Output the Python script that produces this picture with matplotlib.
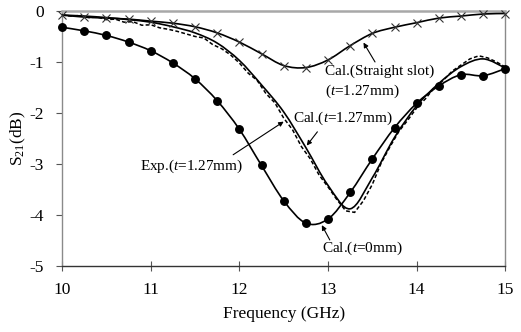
import numpy as np
import matplotlib
matplotlib.use("Agg")
import matplotlib.pyplot as plt
from matplotlib.path import Path
from matplotlib.patches import PathPatch

plt.rcParams['font.family'] = ['Liberation Serif', 'DejaVu Serif']
plt.rcParams['mathtext.fontset'] = 'custom'
plt.rcParams['mathtext.rm'] = 'Liberation Serif'
plt.rcParams['mathtext.it'] = 'Liberation Serif:italic'

# Frequency grid of the simulated curves (GHz)
freq = [10.0, 10.25, 10.5, 10.75, 11.0, 11.25, 11.5, 11.75, 12.0, 12.25, 12.5,
        12.75, 13.0, 13.25, 13.5, 13.75, 14.0, 14.25, 14.5, 14.75, 15.0]

# S21 (dB), calculated, t = 0 mm
s21_cal_t0 = [-0.32, -0.39, -0.48, -0.61, -0.78, -1.02, -1.33, -1.76, -2.32, -3.03, -3.72,
              -4.16, -4.08, -3.56, -2.90, -2.29, -1.81, -1.47, -1.25, -1.27, -1.13]

# S21 (dB), calculated, straight slot, t = 1.27 mm
s21_cal_straight = [-0.08, -0.12, -0.14, -0.16, -0.20, -0.24, -0.31, -0.43, -0.61, -0.84, -1.07,
                    -1.11, -0.96, -0.68, -0.44, -0.32, -0.23, -0.14, -0.10, -0.06, -0.05]

# S21 (dB), calculated, t = 1.27 mm
s21_cal_t127 = [-0.08, -0.10, -0.13, -0.17, -0.22, -0.31, -0.43, -0.63, -0.97, -1.45, -1.98,
                -2.68, -3.42, -3.88, -3.27, -2.48, -1.86, -1.42, -1.09, -0.94, -1.12]

# Measured S21 (dB), t = 1.27 mm
freq_exp = [10.0, 10.1, 10.2, 10.3, 10.4, 10.5, 10.6, 10.7, 10.8, 10.9, 11.0,
            11.1, 11.2, 11.3, 11.4, 11.5, 11.6, 11.7, 11.8, 11.9, 12.0,
            12.1, 12.2, 12.3, 12.4, 12.5, 12.6, 12.7, 12.8, 12.9, 13.0,
            13.1, 13.2, 13.3, 13.4, 13.5, 13.6, 13.7, 13.8, 13.9, 14.0,
            14.1, 14.2, 14.3, 14.4, 14.5, 14.6, 14.7, 14.8, 14.9, 15.0]
s21_exp = [-0.08, -0.10, -0.09, -0.13, -0.12, -0.17, -0.16, -0.22, -0.21, -0.28, -0.27,
           -0.33, -0.36, -0.40, -0.45, -0.50, -0.53, -0.66, -0.74, -0.86, -1.02,
           -1.22, -1.36, -1.62, -1.80, -2.10, -2.33, -2.66, -2.90, -3.22, -3.45,
           -3.70, -3.92, -3.95, -3.72, -3.40, -2.98, -2.66, -2.36, -2.14, -1.90,
           -1.72, -1.50, -1.36, -1.18, -1.06, -0.94, -0.88, -0.92, -1.00, -1.10]

x_ticks = [10, 11, 12, 13, 14, 15]
y_ticks = [0, -1, -2, -3, -4, -5]


def smooth_path(x, y, tension=1.0 / 6.0):
    """Cubic Bezier path through (x, y) with Catmull-Rom style tangents."""
    x = np.asarray(x, float)
    y = np.asarray(y, float)
    n = len(x)
    verts = [(x[0], y[0])]
    codes = [Path.MOVETO]
    for i in range(n - 1):
        i0 = max(i - 1, 0)
        i3 = min(i + 2, n - 1)
        c1 = (x[i] + (x[i + 1] - x[i0]) * tension, y[i] + (y[i + 1] - y[i0]) * tension)
        c2 = (x[i + 1] - (x[i3] - x[i]) * tension, y[i + 1] - (y[i3] - y[i]) * tension)
        verts += [c1, c2, (x[i + 1], y[i + 1])]
        codes += [Path.CURVE4] * 3
    return Path(verts, codes)


fig = plt.figure(figsize=(5.21, 3.32), dpi=100)
ax = fig.add_axes([0.119, 0.199, 0.851, 0.768])

ax.set_xlim(10, 15)
ax.set_ylim(-5, 0)

lw = 1.2
for ys in (s21_cal_t0, s21_cal_straight, s21_cal_t127):
    ax.add_patch(PathPatch(smooth_path(freq, ys), fill=False, edgecolor='black',
                           linewidth=lw, zorder=3))

ax.plot(freq_exp, s21_exp, color='black', linewidth=1.1, linestyle=(0, (2.5, 1.5)), zorder=2)

ax.plot(freq, s21_cal_t0, linestyle='none', marker='o', markersize=5.4,
        color='black', zorder=4, clip_on=False)
ax.plot(freq, s21_cal_straight, linestyle='none', marker='x', markersize=5.5,
        markeredgewidth=0.8, color='#333333', zorder=4, clip_on=False)

fs_note = 11
fs_axis = 12.5
arrow = dict(arrowstyle='-|>', color='black', lw=0.8, mutation_scale=7, shrinkA=0, shrinkB=0)

ax.annotate('', xy=(13.40, -0.62), xytext=(13.53, -1.00), arrowprops=arrow)
ax.text(12.97, -1.19, 'Cal.(Straight slot)', fontsize=fs_note, va='center', ha='left')
ax.text(12.97, -1.57, '($t$=1.27mm)', fontsize=fs_note, va='center', ha='left')

ax.annotate('', xy=(12.76, -2.64), xytext=(12.88, -2.37), arrowprops=arrow)
ax.text(12.61, -2.10, 'Cal.($t$=1.27mm)', fontsize=fs_note, va='center', ha='left')

ax.annotate('', xy=(12.50, -2.17), xytext=(11.93, -2.82), arrowprops=arrow)
ax.text(10.88, -3.05, 'Exp.($t$=1.27mm)', fontsize=fs_note, va='center', ha='left')

ax.annotate('', xy=(12.93, -4.20), xytext=(13.02, -4.49), arrowprops=arrow)
ax.text(12.93, -4.65, 'Cal.($t$=0mm)', fontsize=fs_note, va='center', ha='left')

ax.set_xticks(x_ticks)
ax.set_xticklabels([str(v) for v in x_ticks], fontsize=fs_axis)
ax.set_yticks(y_ticks)
ax.set_yticklabels([str(v) for v in y_ticks], fontsize=fs_axis)
ax.tick_params(axis='x', direction='inout', length=7, width=0.8, color='#555555', pad=8)
ax.tick_params(axis='y', direction='out', length=4, width=0.8, color='#555555', pad=9)

ax.set_xlabel('Frequency (GHz)', fontsize=fs_axis, labelpad=6)
ax.set_ylabel('S$_{21}$(dB)', fontsize=fs_axis, labelpad=1)

for side in ('left', 'right'):
    ax.spines[side].set_color('#8a8a8a')
    ax.spines[side].set_linewidth(1.0)
ax.spines['top'].set_color('#a8a8a8')
ax.spines['top'].set_linewidth(1.8)
ax.spines['bottom'].set_color('#333333')
ax.spines['bottom'].set_linewidth(1.0)

fig.savefig('out.png', dpi=100)
